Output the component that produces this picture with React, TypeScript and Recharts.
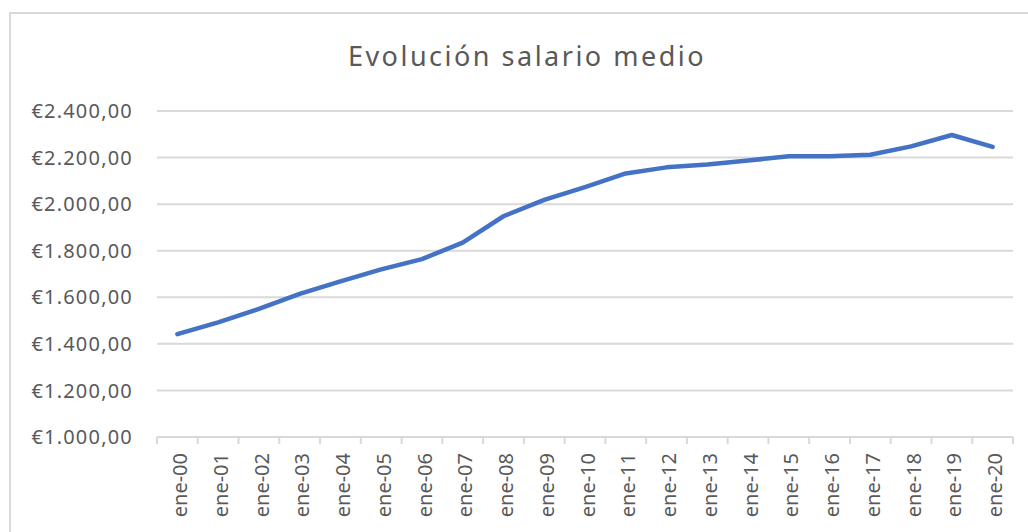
import { LineChart, Line, XAxis, YAxis, CartesianGrid } from 'recharts'

const meses = [
  'ene-00', 'ene-01', 'ene-02', 'ene-03', 'ene-04', 'ene-05', 'ene-06',
  'ene-07', 'ene-08', 'ene-09', 'ene-10', 'ene-11', 'ene-12', 'ene-13',
  'ene-14', 'ene-15', 'ene-16', 'ene-17', 'ene-18', 'ene-19', 'ene-20',
]
const salario = [
  1442, 1492, 1550, 1615, 1668, 1720, 1764, 1835, 1948, 2018, 2073,
  2132, 2158, 2170, 2187, 2206, 2206, 2212, 2248, 2297, 2246,
]
const yTicks = [1000, 1200, 1400, 1600, 1800, 2000, 2200, 2400]

const data = meses.map((mes, i) => ({ mes, salario: salario[i] }))

const W = 1028
const H = 532
const margin = { top: 111, right: 15, bottom: 5, left: 10 }
const yAxisW = 147
const plotW = W - margin.left - margin.right - yAxisW
const band = plotW / meses.length

const GRAY = '#d9d9d9'
const TEXT = '#595959'
const FONT = '"Noto Sans", sans-serif'

// €2.400,00 style (spanish grouping)
const euro = (v: number) =>
  `€${Math.floor(v / 1000)}.${String(v % 1000).padStart(3, '0')},00`

function MesTick(props: any) {
  const { x, y, payload, index } = props
  const last = index === meses.length - 1
  return (
    <g transform={`translate(${x},${y})`}>
      <line x1={-band / 2} x2={-band / 2} y1={0} y2={7} stroke={GRAY} strokeWidth={2} />
      {last && <line x1={band / 2} x2={band / 2} y1={0} y2={7} stroke={GRAY} strokeWidth={2} />}
      <text
        transform="rotate(-90)"
        x={-16}
        y={0}
        dy="0.48em"
        textAnchor="end"
        fill={TEXT}
        fontSize={20}
        fontFamily={FONT}
      >
        {payload.value}
      </text>
    </g>
  )
}

export default function App() {
  return (
    <div style={{ position: 'absolute', left: 0, top: 0, width: W, height: H, background: '#fff', fontFamily: FONT }}>
      <div
        style={{
          position: 'absolute', left: 9, top: 12, width: W - 9, height: H - 12,
          borderLeft: `2px solid ${GRAY}`, borderTop: `2px solid ${GRAY}`, boxSizing: 'border-box',
        }}
      />
      <div
        style={{
          position: 'absolute', left: 0, top: 42, width: 1054, textAlign: 'center',
          fontSize: 27, lineHeight: 1, letterSpacing: 2.5, color: TEXT,
        }}
      >
        Evolución salario medio
      </div>
      <LineChart width={W} height={H} data={data} margin={margin} style={{ position: 'absolute', left: 0, top: 0 }}>
        <CartesianGrid vertical={false} stroke={GRAY} strokeWidth={2} />
        <XAxis
          dataKey="mes"
          interval={0}
          padding={{ left: band / 2, right: band / 2 }}
          axisLine={{ stroke: GRAY, strokeWidth: 2 }}
          tickLine={false}
          tickSize={0}
          tickMargin={0}
          height={90}
          tick={<MesTick />}
        />
        <YAxis
          domain={[1000, 2400]}
          ticks={yTicks}
          interval={0}
          width={yAxisW}
          axisLine={false}
          tickLine={false}
          tickSize={0}
          tickMargin={24}
          tickFormatter={euro}
          tick={{ fill: TEXT, fontSize: 20, fontFamily: FONT, letterSpacing: 1.2 }}
        />
        <Line
          type="linear"
          dataKey="salario"
          stroke="#4472C4"
          strokeWidth={4.5}
          strokeLinecap="round"
          strokeLinejoin="round"
          dot={false}
          activeDot={false}
          isAnimationActive={false}
        />
      </LineChart>
    </div>
  )
}
